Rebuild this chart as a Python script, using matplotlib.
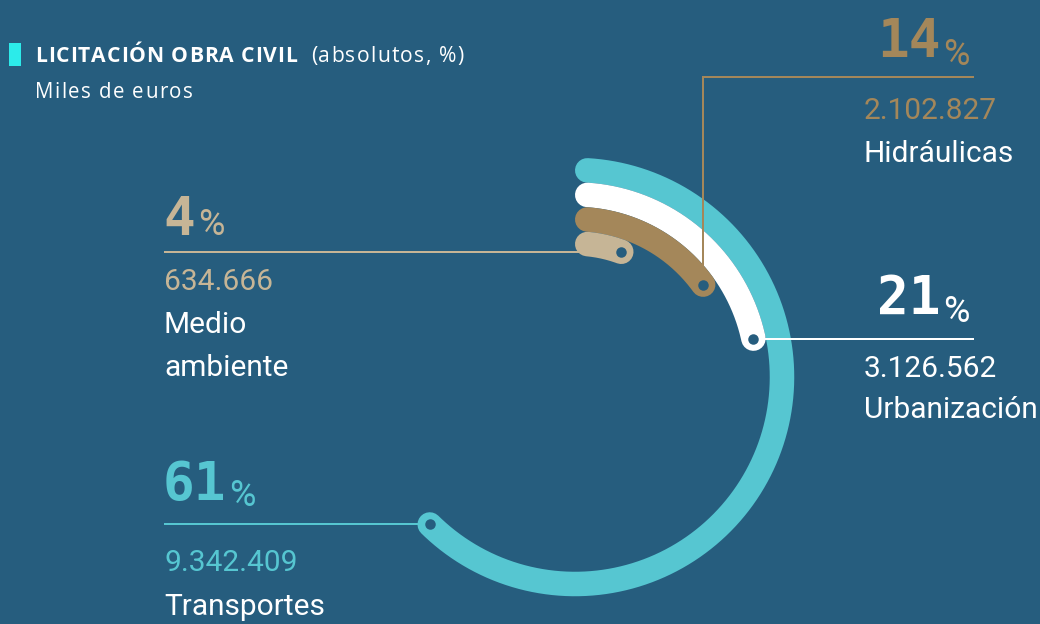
import numpy as np
import matplotlib
matplotlib.use('Agg')
import matplotlib.pyplot as plt
from matplotlib.patches import Rectangle
from matplotlib.font_manager import FontProperties, findfont, get_font

# ---------------- data ----------------
categories = ['Transportes', 'Urbanización', 'Hidráulicas', 'Medio ambiente']
name_lines = [['Transportes'], ['Urbanización'], ['Hidráulicas'], ['Medio', 'ambiente']]
values = [9342409, 3126562, 2102827, 634666]          # miles de euros
value_labels = ['9.342.409', '3.126.562', '2.102.827', '634.666']
pct_labels = ['61', '21', '14', '4']
title_bold = 'LICITACIÓN OBRA CIVIL'
title_rest = '(absolutos, %)'
subtitle = 'Miles de euros'

# ---------------- style ----------------
BG = '#265D7E'
colors = ['#56C6D1', '#FFFFFF', '#A4875A', '#C6B596']
MARK = '#2CEBEA'

W, H = 1040, 624
DPI = 100
fig = plt.figure(figsize=(10.4, 6.24), dpi=DPI, facecolor=BG)
ax = fig.add_axes([0, 0, 1, 1])
ax.set_xlim(0, W)
ax.set_ylim(H, 0)
ax.axis('off')
ax.set_facecolor(BG)
PT = 72 / float(DPI)  # px -> pt

cx, cy = 575, 377
radii = [207, 182.5, 158, 133.5]
thick = 24.5
total = float(sum(values))

dots = []
for v, r, c in zip(values, radii, colors):
    cap = (thick / 2) / r
    t = np.linspace(cap, 2 * np.pi * v / total + cap, 500)
    x = cx + r * np.sin(t)
    y = cy - r * np.cos(t)
    ax.plot(x, y, color=c, lw=thick * PT, solid_capstyle='round', zorder=2)
    dots.append((x[-1], y[-1]))

LW = 2 * PT
(dx0, dy0) = dots[0]
ax.plot([165, dx0], [dy0, dy0], color=colors[0], lw=LW, zorder=3)
(dx1, dy1) = dots[1]
ax.plot([dx1, 973], [dy1, dy1], color=colors[1], lw=LW, zorder=3)
(dx2, dy2) = dots[2]
ax.plot([dx2, dx2, 973], [dy2, 77, 77], color=colors[2], lw=LW, zorder=3,
        solid_joinstyle='miter')
(dx3, dy3) = dots[3]
ax.plot([165, dx3], [dy3, dy3], color=colors[3], lw=LW, zorder=3)

for (dx, dy) in dots:
    ax.scatter([dx], [dy], s=(10.5 * PT) ** 2, color=BG, zorder=4, linewidths=0)

renderer = fig.canvas.get_renderer()
inv = ax.transData.inverted()

def extent(t):
    bb = t.get_window_extent(renderer)
    (x0, y0), (x1, y1) = inv.transform([[bb.x0, bb.y0], [bb.x1, bb.y1]])
    return min(x0, x1), max(x0, x1)

def tracked(x, y, s, track, family, size, weight='normal', color='white'):
    fp = FontProperties(family=family, weight=weight, size=size)
    font = get_font(findfont(fp))
    font.set_size(size, DPI)
    pos = x
    for ch in s:
        ax.text(pos, y, ch, color=color, family=family, fontweight=weight,
                fontsize=size, va='baseline', ha='left', zorder=5)
        g = font.load_char(ord(ch))
        pos += g.linearHoriAdvance / 65536.0 + track
    return pos

BIG = dict(family='DejaVu Sans Mono', fontweight='bold', fontsize=38)
PCT = dict(family='Roboto', fontsize=26)
TXT = dict(family='Roboto', fontsize=21.5)

line_ys = [dy0, dy1, 77, dy3]
sides = ['left', 'right', 'right', 'left']
big_off = [-24, -25, -20, -17]
pct_off = [-18, -17, -12, -17]
num_off = [47, 38.7, 42, 38]
name_off = [90.7, 79.4, 85, 81]
for i in range(4):
    ly = line_ys[i]
    c = colors[i]
    if sides[i] == 'left':
        t = ax.text(163, ly + big_off[i], pct_labels[i], color=c, va='baseline',
                    ha='left', zorder=5, **BIG)
        _, xr = extent(t)
        ax.text(xr + 3, ly + pct_off[i], '%', color=c, va='baseline', ha='left',
                zorder=5, **PCT)
        xt = 164
    else:
        tp = ax.text(970, ly + pct_off[i], '%', color=c, va='baseline', ha='right',
                     zorder=5, **PCT)
        xl, _ = extent(tp)
        ax.text(xl - 3, ly + big_off[i], pct_labels[i], color=c, va='baseline',
                ha='right', zorder=5, **BIG)
        xt = 864
    ax.text(xt, ly + num_off[i], value_labels[i], color=c, va='baseline', ha='left',
            zorder=5, **TXT)
    for k, nl in enumerate(name_lines[i]):
        ax.text(xt, ly + name_off[i] + 43 * k, nl, color='white', va='baseline',
                ha='left', zorder=5, **TXT)

# title
ax.add_patch(Rectangle((9, 43), 12, 23, color=MARK, zorder=5, lw=0))
tracked(35, 62, title_bold, 0.9, 'Open Sans', 15.2, weight='bold')
tracked(311, 62, title_rest, 1.2, 'Open Sans', 15.2)
tracked(35, 98, subtitle, 1.4, 'Open Sans', 14.8)

fig.savefig('out.png', dpi=DPI, facecolor=BG)
